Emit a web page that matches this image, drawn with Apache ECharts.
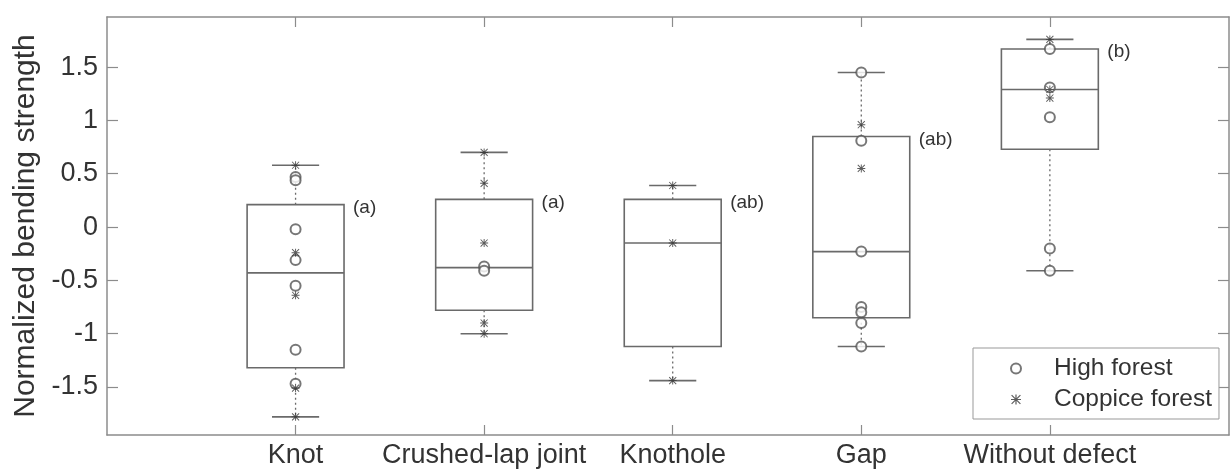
<!DOCTYPE html>
<html>
<head>
<meta charset="utf-8">
<script src="https://cdn.jsdelivr.net/npm/echarts@6/dist/echarts.min.js"></script>
<style>
  html, body { margin: 0; padding: 0; background: #fff; }
  #chart { width: 1230px; height: 474px; }
</style>
</head>
<body>
<div id="chart"></div>
<script>
// ---- data ----
const categories = ['Knot', 'Crushed-lap joint', 'Knothole', 'Gap', 'Without defect'];
// box statistics per category: [lower whisker, Q1, median, Q3, upper whisker]
const boxMin    = [-1.78, -1.00, -1.44, -1.12, -0.41];
const boxQ1     = [-1.32, -0.78, -1.12, -0.85,  0.73];
const boxMedian = [-0.43, -0.38, -0.15, -0.23,  1.29];
const boxQ3     = [ 0.21,  0.26,  0.26,  0.85,  1.67];
const boxMax    = [ 0.58,  0.70,  0.39,  1.45,  1.76];
const groupLetters = ['(a)', '(a)', '(ab)', '(ab)', '(b)'];
// individual observations per category
const highForest = [
  [0.47, 0.44, -0.02, -0.31, -0.55, -1.15, -1.47],
  [-0.37, -0.41],
  [],
  [1.45, 0.81, -0.23, -0.75, -0.80, -0.90, -1.12],
  [1.67, 1.31, 1.03, -0.20, -0.41]
];
const coppiceForest = [
  [0.58, -0.24, -0.64, -1.51, -1.78],
  [0.70, 0.41, -0.15, -0.90, -1.00],
  [0.39, -0.15, -1.44],
  [0.96, 0.55],
  [1.76, 1.29, 1.21]
];
const yTicks = [-1.5, -1, -0.5, 0, 0.5, 1, 1.5];
const xTicks = [1, 2, 3, 4, 5];

// ---- build ----
const boxData = categories.map((c, i) => [i + 1, boxMin[i], boxQ1[i], boxMedian[i], boxQ3[i], boxMax[i]]);
const hfData = [];
highForest.forEach((arr, i) => arr.forEach(v => hfData.push([i + 1, v])));
const cfData = [];
coppiceForest.forEach((arr, i) => arr.forEach(v => cfData.push([i + 1, v])));

const FONT = 'Liberation Sans, Arial, sans-serif';
const TXT = '#333';
const AX = '#8c8c8c';
const BOXC = '#6a6a6a';
const BOX_HALF = 0.257;
const CAP_HALF = 0.125;
const asterisk = 'path://M4.4,0H5.6V10H4.4Z M0,4.4H10V5.6H0Z M1,0.2L9.8,9L9,9.8L0.2,1Z M9,0.2L9.8,1L1,9.8L0.2,9Z';

const chart = echarts.init(document.getElementById('chart'), null, { renderer: 'canvas' });

const option = {
  backgroundColor: '#fff',
  animation: false,
  grid: { left: 107, right: 1, top: 17, bottom: 39, containLabel: false },
  legend: {
    orient: 'vertical',
    left: 973,
    top: 348,
    padding: [8, 7, 7, 37],
    itemGap: 6,
    itemWidth: 10,
    itemHeight: 10,
    selectedMode: false,
    borderColor: '#999',
    borderWidth: 1,
    backgroundColor: '#fff',
    textStyle: { fontFamily: FONT, fontSize: 24.5, color: TXT, padding: [0, 0, 0, 28], lineHeight: 24 },
    data: ['High forest', 'Coppice forest']
  },
  xAxis: [
    {
      type: 'value', min: 0, max: 5.95, position: 'bottom',
      axisLine: { show: true, onZero: false, lineStyle: { color: AX, width: 1.5 } },
      axisTick: { show: true, inside: true, length: 10, customValues: xTicks, lineStyle: { color: AX, width: 1.2 } },
      axisLabel: {
        show: true, customValues: xTicks, margin: 7,
        fontFamily: FONT, fontSize: 27, color: TXT,
        formatter: v => categories[Math.round(v) - 1] || ''
      },
      splitLine: { show: false }
    },
    {
      type: 'value', min: 0, max: 5.95, position: 'top',
      axisLine: { show: true, onZero: false, lineStyle: { color: AX, width: 1.5 } },
      axisTick: { show: true, inside: true, length: 10, customValues: xTicks, lineStyle: { color: AX, width: 1.2 } },
      axisLabel: { show: false },
      splitLine: { show: false }
    }
  ],
  yAxis: [
    {
      type: 'value', min: -1.95, max: 1.97, position: 'left',
      name: 'Normalized bending strength',
      nameLocation: 'middle', nameGap: 63, nameRotate: 90,
      nameTextStyle: { fontFamily: FONT, fontSize: 30, color: TXT },
      axisLine: { show: true, onZero: false, lineStyle: { color: AX, width: 1.5 } },
      axisTick: { show: true, inside: true, length: 11, customValues: yTicks, lineStyle: { color: AX, width: 1.2 } },
      axisLabel: { show: true, customValues: yTicks, margin: 9, fontFamily: FONT, fontSize: 27, color: TXT },
      splitLine: { show: false }
    },
    {
      type: 'value', min: -1.95, max: 1.97, position: 'right',
      axisLine: { show: true, onZero: false, lineStyle: { color: AX, width: 1.5 } },
      axisTick: { show: true, inside: true, length: 11, customValues: yTicks, lineStyle: { color: AX, width: 1.2 } },
      axisLabel: { show: false },
      splitLine: { show: false }
    }
  ],
  series: [
    {
      type: 'custom',
      name: 'boxes',
      xAxisIndex: 0, yAxisIndex: 0,
      data: boxData,
      encode: { x: 0, y: [1, 2, 3, 4, 5] },
      z: 1,
      renderItem: function (params, api) {
        const x = api.value(0);
        const vmin = api.value(1), q1 = api.value(2), med = api.value(3), q3 = api.value(4), vmax = api.value(5);
        const lt = api.coord([x - BOX_HALF, q3]);
        const rb = api.coord([x + BOX_HALF, q1]);
        const mL = api.coord([x - BOX_HALF, med]);
        const mR = api.coord([x + BOX_HALF, med]);
        const c = api.coord([x, 0]);
        const pMax = api.coord([x, vmax]);
        const pMin = api.coord([x, vmin]);
        const capL = api.coord([x - CAP_HALF, 0])[0];
        const capR = api.coord([x + CAP_HALF, 0])[0];
        const solid = { stroke: BOXC, lineWidth: 1.6, fill: null };
        const dotted = { stroke: BOXC, lineWidth: 1.3, lineDash: [2, 3], fill: null };
        return {
          type: 'group',
          children: [
            { type: 'line', shape: { x1: c[0], y1: lt[1], x2: c[0], y2: pMax[1] }, style: dotted },
            { type: 'line', shape: { x1: c[0], y1: rb[1], x2: c[0], y2: pMin[1] }, style: dotted },
            { type: 'rect', shape: { x: lt[0], y: lt[1], width: rb[0] - lt[0], height: rb[1] - lt[1] }, style: solid },
            { type: 'line', shape: { x1: mL[0], y1: mL[1], x2: mR[0], y2: mR[1] }, style: solid },
            { type: 'line', shape: { x1: capL, y1: pMax[1], x2: capR, y2: pMax[1] }, style: solid },
            { type: 'line', shape: { x1: capL, y1: pMin[1], x2: capR, y2: pMin[1] }, style: solid },
            {
              type: 'text',
              style: {
                text: groupLetters[params.dataIndex],
                x: rb[0] + 9, y: lt[1] + 3,
                verticalAlign: 'middle', align: 'left',
                font: '19px ' + FONT, fill: TXT
              }
            }
          ]
        };
      }
    },
    {
      type: 'scatter',
      name: 'High forest',
      xAxisIndex: 0, yAxisIndex: 0,
      data: hfData,
      symbol: 'emptyCircle',
      symbolSize: 10,
      itemStyle: { color: '#555', borderWidth: 1.2 },
      z: 3
    },
    {
      type: 'scatter',
      name: 'Coppice forest',
      xAxisIndex: 0, yAxisIndex: 0,
      data: cfData,
      symbol: asterisk,
      symbolSize: 8,
      itemStyle: { color: '#333' },
      z: 4
    }
  ]
};
chart.setOption(option);
</script>
</body>
</html>
